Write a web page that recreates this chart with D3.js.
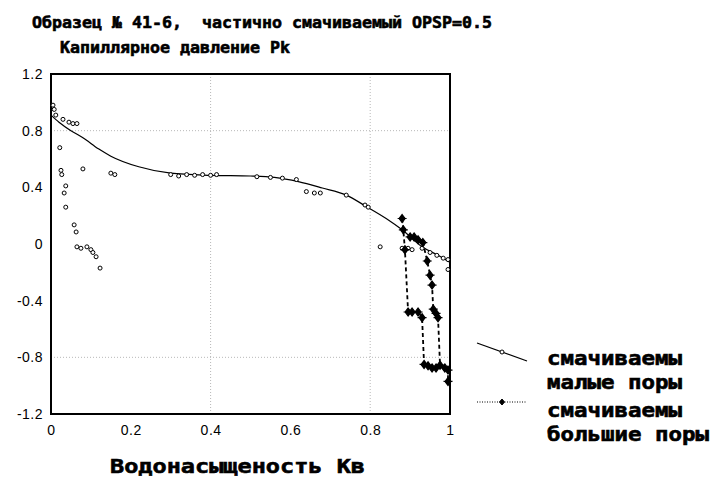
<!DOCTYPE html>
<html>
<head>
<meta charset="utf-8">
<script src="https://cdn.jsdelivr.net/npm/d3@7/dist/d3.min.js"></script>
<style>
  html, body { margin: 0; padding: 0; background: #fff; }
  svg { display: block; }
  .tick text { font-family: "Liberation Sans", Arial, sans-serif; font-size: 14px; fill: #000; letter-spacing: 0.5px; }
  .hdr { font-family: "DejaVu Sans Mono", monospace; font-weight: bold; fill: #000; stroke: #000; stroke-width: 0.6px; white-space: pre; }
</style>
</head>
<body>
<svg id="chart" width="713" height="477"></svg>
<script>
// Axis ticks and labels
const xTicks = [0, 0.2, 0.4, 0.6, 0.8, 1];
const xTickLabels = ["0", "0.2", "0.4", "0.6", "0.8", "1"];
const yTicks = [-1.2, -0.8, -0.4, 0, 0.4, 0.8, 1.2];
const yTickLabels = ["-1.2", "-0.8", "-0.4", "0", "0.4", "0.8", "1.2"];
const xGrid = [0.4, 0.8];
const yGrid = [-0.8, 0.8];

// Fitted curve for small pores
const fitX = [0, 0.02, 0.05, 0.08, 0.12, 0.15, 0.22, 0.30, 0.40, 0.50, 0.56, 0.62, 0.68, 0.74, 0.79, 0.84, 0.88, 0.93, 0.97, 1.0];
const fitY = [0.91, 0.86, 0.80, 0.75, 0.67, 0.62, 0.545, 0.50, 0.485, 0.48, 0.47, 0.44, 0.395, 0.345, 0.265, 0.18, 0.10, -0.02, -0.08, -0.13];

// Measured points, small pores
const smallX = [0.005, 0.008, 0.012, 0.03, 0.045, 0.055, 0.065,
  0.022, 0.025, 0.027, 0.08, 0.15, 0.16,
  0.037, 0.033, 0.037, 0.058, 0.063, 0.065, 0.075, 0.09, 0.10, 0.105, 0.113, 0.123,
  0.30, 0.32, 0.34, 0.36, 0.38, 0.40, 0.415,
  0.516, 0.55, 0.58, 0.615, 0.64, 0.66, 0.675, 0.74, 0.787, 0.795,
  0.825, 0.88, 0.895, 0.905, 0.93, 0.95, 0.967, 0.983, 0.995, 0.995];
const smallY = [0.98, 0.95, 0.91, 0.88, 0.86, 0.85, 0.85,
  0.68, 0.52, 0.49, 0.53, 0.50, 0.49,
  0.41, 0.36, 0.26, 0.135, 0.085, -0.02, -0.03, -0.02, -0.04, -0.06, -0.09, -0.17,
  0.49, 0.48, 0.49, 0.485, 0.49, 0.485, 0.49,
  0.475, 0.47, 0.465, 0.455, 0.37, 0.36, 0.36, 0.345, 0.275, 0.26,
  -0.02, -0.03, -0.03, -0.04, -0.03, -0.06, -0.08, -0.10, -0.11, -0.18];

// Measured points, large pores (two runs)
const largeAX = [0.880, 0.883, 0.887, 0.895, 0.905, 0.92, 0.93, 0.935, 0.945, 0.955, 0.965];
const largeAY = [0.18, 0.10, -0.04, -0.48, -0.48, -0.48, -0.52, -0.85, -0.86, -0.875, -0.875];
const largeBX = [0.90, 0.91, 0.92, 0.932, 0.943, 0.95, 0.955, 0.958, 0.965, 0.97, 0.975, 0.987, 0.995, 0.995];
const largeBY = [0.05, 0.05, 0.03, 0.01, -0.12, -0.22, -0.29, -0.46, -0.49, -0.52, -0.855, -0.875, -0.89, -0.97];

const legendLabels = [["смачиваемы", "малые поры"], ["смачиваемы", "большие поры"]];

const svg = d3.select("#chart");
const x = d3.scaleLinear().domain([0, 1]).range([51, 450]);
const y = d3.scaleLinear().domain([-1.2, 1.2]).range([414, 74]);

// Titles
svg.append("text").attr("class", "hdr").attr("x", 32).attr("y", 28)
  .attr("font-size", 16).attr("textLength", 460).attr("lengthAdjust", "spacingAndGlyphs")
  .text("Образец № 41-6,  частично смачиваемый OPSP=0.5");
svg.append("text").attr("class", "hdr").attr("x", 60).attr("y", 53)
  .attr("font-size", 16).attr("textLength", 230).attr("lengthAdjust", "spacingAndGlyphs")
  .text("Капиллярное давление Pk");

// Grid
const grid = svg.append("g").attr("stroke", "#b8b8b8").attr("stroke-width", 1).attr("stroke-dasharray", "1,2");
grid.selectAll("line.gx").data(xGrid).join("line").attr("class", "gx")
  .attr("x1", d => x(d)).attr("x2", d => x(d)).attr("y1", y(1.2)).attr("y2", y(-1.2));
grid.selectAll("line.gy").data(yGrid).join("line").attr("class", "gy")
  .attr("x1", x(0)).attr("x2", x(1)).attr("y1", d => y(d)).attr("y2", d => y(d));

// Axes
const yAxis = d3.axisLeft(y).tickValues(yTicks).tickSize(0).tickPadding(8)
  .tickFormat((d, i) => yTickLabels[i]);
svg.append("g").attr("transform", `translate(${x(0)},0)`).call(yAxis)
  .call(g => g.select(".domain").remove());
const xAxis = d3.axisBottom(x).tickValues(xTicks).tickSize(0).tickPadding(11)
  .tickFormat((d, i) => xTickLabels[i]);
svg.append("g").attr("transform", `translate(0,${y(-1.2)})`).call(xAxis)
  .call(g => g.select(".domain").remove());

// Frame
svg.append("rect").attr("x", x(0)).attr("y", y(1.2))
  .attr("width", x(1) - x(0)).attr("height", y(-1.2) - y(1.2))
  .attr("fill", "none").attr("stroke", "#000").attr("stroke-width", 2);

// Fitted curve
const fit = d3.range(fitX.length).map(i => [fitX[i], fitY[i]]);
svg.append("path").datum(fit)
  .attr("fill", "none").attr("stroke", "#000").attr("stroke-width", 1.2)
  .attr("d", d3.line().x(d => x(d[0])).y(d => y(d[1])).curve(d3.curveMonotoneX));

// Small-pore points
const small = d3.range(smallX.length).map(i => [smallX[i], smallY[i]]);
svg.append("g").selectAll("circle").data(small).join("circle")
  .attr("cx", d => x(d[0])).attr("cy", d => y(d[1])).attr("r", 2)
  .attr("fill", "#fff").attr("stroke", "#000").attr("stroke-width", 1);

// Large-pore runs
const diamond = "M0,-4L3,0L0,4L-3,0Z M-4.5,0H4.5";
const lineGen = d3.line().x(d => x(d[0])).y(d => y(d[1]));
[[largeAX, largeAY], [largeBX, largeBY]].forEach(([xs, ys]) => {
  const pts = d3.range(xs.length).map(i => [xs[i], ys[i]]);
  svg.append("path").datum(pts)
    .attr("fill", "none").attr("stroke", "#000").attr("stroke-width", 1.8)
    .attr("stroke-dasharray", "4,3").attr("d", lineGen);
  svg.append("g").selectAll("path").data(pts).join("path")
    .attr("transform", d => `translate(${x(d[0])},${y(d[1])})`)
    .attr("d", diamond).attr("fill", "#000").attr("stroke", "#000").attr("stroke-width", 1.2);
});

// Legend
const lg = svg.append("g");
lg.append("line").attr("x1", 477).attr("y1", 343).attr("x2", 527).attr("y2", 361)
  .attr("stroke", "#000").attr("stroke-width", 1.2);
lg.append("circle").attr("cx", 502).attr("cy", 352).attr("r", 2)
  .attr("fill", "#fff").attr("stroke", "#000");
lg.append("line").attr("x1", 477).attr("y1", 402).attr("x2", 527).attr("y2", 402)
  .attr("stroke", "#000").attr("stroke-width", 1).attr("stroke-dasharray", "1,1.5");
lg.append("path").attr("transform", "translate(502,402)").attr("d", "M0,-3L2.5,0L0,3L-2.5,0Z")
  .attr("fill", "#000").attr("stroke", "#000");
const lgY = [[365, 389], [417, 441]];
legendLabels.forEach((lines, k) => {
  lines.forEach((t, j) => {
    lg.append("text").attr("class", "hdr").attr("x", 547).attr("y", lgY[k][j])
      .attr("font-size", 19).attr("textLength", t.length * 13.5)
      .attr("lengthAdjust", "spacingAndGlyphs").text(t);
  });
});

// X axis title
svg.append("text").attr("class", "hdr").attr("x", 110).attr("y", 473)
  .attr("font-size", 20).attr("textLength", 255).attr("lengthAdjust", "spacingAndGlyphs")
  .text("Водонасыщеность Кв");
</script>
</body>
</html>
